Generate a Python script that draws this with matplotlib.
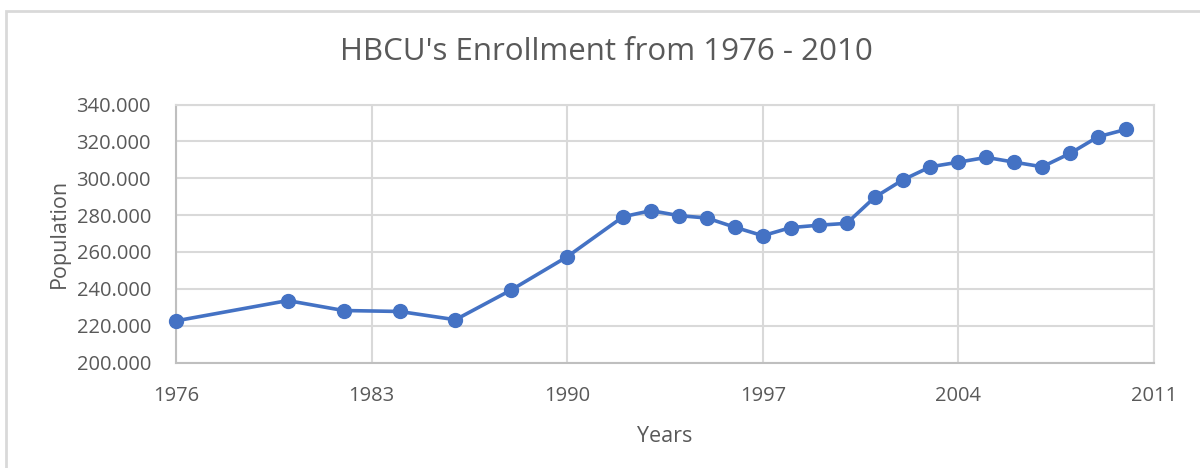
import matplotlib.pyplot as plt
from matplotlib.patches import Rectangle
from matplotlib.ticker import FuncFormatter

# data (thousands)
years = [1976, 1980, 1982, 1984, 1986, 1988, 1990, 1992, 1993, 1994, 1995,
         1996, 1997, 1998, 1999, 2000, 2001, 2002, 2003, 2004, 2005, 2006,
         2007, 2008, 2009, 2010]
enrollment = [222.6, 233.6, 228.2, 227.7, 223.2, 239.4, 257.4, 279.1, 282.4,
              279.7, 278.4, 273.4, 268.8, 273.2, 274.5, 275.5, 289.6, 299.0,
              306.2, 308.7, 311.3, 308.7, 306.2, 313.5, 322.5, 326.5]
x_ticks = [1976, 1983, 1990, 1997, 2004, 2011]
y_ticks = [200, 220, 240, 260, 280, 300, 320, 340]

plt.rcParams['font.family'] = ['Open Sans', 'DejaVu Sans']
txt = '#595959'
grid = '#d9d9d9'

fig = plt.figure(figsize=(12, 4.68), dpi=100)
W, H = 1200, 468

# outer chart border
fig.patches.append(Rectangle((6 / W, -0.05), 1.1, 1 - 11 / H + 0.05,
                             transform=fig.transFigure, fill=False,
                             edgecolor='#d9d9d9', lw=2))

ax = fig.add_axes([176 / W, 1 - 362.5 / H, (1154 - 176) / W, (362.5 - 104.5) / H])
ax.plot(years, enrollment, color='#4472c4', lw=2.6, marker='o', ms=10,
        zorder=3, clip_on=False)

ax.set_xlim(1976, 2011)
ax.set_ylim(200, 340)
ax.set_xticks(x_ticks)
ax.set_yticks(y_ticks)
ax.yaxis.set_major_formatter(FuncFormatter(lambda v, p: f"{v:.3f}"))
ax.grid(True, color=grid, lw=1.5)
ax.set_axisbelow(True)
for s in ['top', 'right']:
    ax.spines[s].set_color(grid)
    ax.spines[s].set_linewidth(1.5)
for s in ['left', 'bottom']:
    ax.spines[s].set_color('#bfbfbf')
    ax.spines[s].set_linewidth(1.5)
ax.tick_params(length=0, colors=txt, labelsize=14.5)
ax.tick_params(axis='x', pad=17)
ax.tick_params(axis='y', pad=18)

fig.text(606 / W, 1 - 52 / H, "HBCU's Enrollment from 1976 - 2010",
         color=txt, fontsize=22.5, ha='center', va='center')
ax.set_xlabel("Years", color=txt, fontsize=15.5, labelpad=14)
ax.set_ylabel("Population", color=txt, fontsize=15.5, labelpad=5)

fig.savefig('out.png', dpi=100)
